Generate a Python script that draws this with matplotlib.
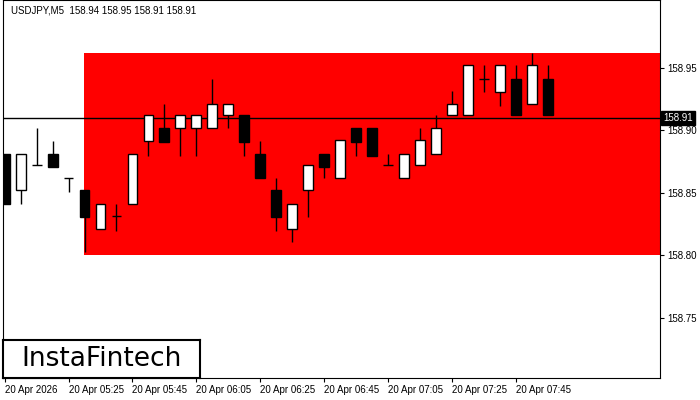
import matplotlib
matplotlib.use("Agg")
import matplotlib.pyplot as plt
from matplotlib.patches import Rectangle

plt.rcParams['font.family'] = ['Liberation Sans', 'DejaVu Sans']

opens  = [158.881,158.852,158.872,158.881,158.862,158.852,158.821,158.832,158.841,158.892,
          158.902,158.902,158.902,158.902,158.912,158.912,158.881,158.852,158.821,158.852,
          158.881,158.862,158.902,158.902,158.872,158.862,158.872,158.881,158.912,158.912,
          158.941,158.931,158.941,158.921,158.941]
highs  = [158.881,158.881,158.902,158.892,158.862,158.852,158.841,158.841,158.881,158.912,
          158.921,158.912,158.912,158.941,158.921,158.912,158.892,158.862,158.841,158.872,
          158.881,158.892,158.902,158.902,158.881,158.881,158.902,158.912,158.932,158.952,
          158.952,158.952,158.952,158.962,158.952]
lows   = [158.841,158.841,158.872,158.871,158.851,158.803,158.821,158.820,158.841,158.880,
          158.891,158.880,158.880,158.902,158.902,158.880,158.862,158.820,158.811,158.831,
          158.862,158.862,158.880,158.880,158.872,158.862,158.872,158.881,158.912,158.912,
          158.931,158.920,158.912,158.921,158.912]
closes = [158.841,158.881,158.872,158.871,158.862,158.831,158.841,158.832,158.881,158.912,
          158.891,158.912,158.912,158.921,158.921,158.891,158.862,158.831,158.841,158.872,
          158.871,158.892,158.891,158.880,158.872,158.881,158.892,158.902,158.921,158.952,
          158.941,158.952,158.912,158.952,158.912]
xlabels = ["20 Apr 2026","20 Apr 05:25","20 Apr 05:45","20 Apr 06:05","20 Apr 06:25",
           "20 Apr 06:45","20 Apr 07:05","20 Apr 07:25","20 Apr 07:45"]
yticks = [158.75,158.80,158.85,158.90,158.95]
zone_low, zone_high, zone_start = 158.80, 158.962, 5
last_price = 158.91

fig = plt.figure(figsize=(7,4), dpi=100)
ax = fig.add_axes([3/700, 22/400, 657/700, 378/400])
ax.set_xlim(-0.1, 41.0)
ax.set_ylim(158.702, 159.0044)

ax.add_patch(Rectangle((zone_start-0.05, zone_low), 50, zone_high-zone_low, facecolor="#ff0000", edgecolor="none", zorder=1))
ax.axhline(last_price, color="black", lw=1, zorder=2)

w = 0.62
for i,(o,h,l,c) in enumerate(zip(opens,highs,lows,closes)):
    ax.vlines(i, l, h, color="black", lw=1, zorder=3)
    bot, top = min(o,c), max(o,c)
    if abs(c-o) < 0.002:
        ax.hlines(o, i-w/2, i+w/2, color="black", lw=1, zorder=4)
    else:
        ax.add_patch(Rectangle((i-w/2, bot), w, top-bot, facecolor="white" if c>o else "black",
                               edgecolor="black", lw=1, zorder=4))

ax.set_xticks(range(0, 4*len(xlabels), 4))
ax.set_xticklabels(xlabels, fontsize=7, ha="left")
ax.yaxis.tick_right()
ax.set_yticks(yticks)
ax.set_yticklabels([f"{v:.2f}" for v in yticks], fontsize=7)
ax.tick_params(length=3, pad=2)
ax.text(1.005, last_price, f"{last_price:.2f}", transform=ax.get_yaxis_transform(), fontsize=7,
        color="white", va="center", ha="left",
        bbox=dict(facecolor="black", edgecolor="black", pad=1.5))
ax.text(0.012, 0.985, "USDJPY,M5  158.94 158.95 158.91 158.91", transform=ax.transAxes,
        fontsize=7, va="top", ha="left")
logo_ax = fig.add_axes([3/700, 22/400, 197/700, 38/400])
logo_ax.set_xticks([]); logo_ax.set_yticks([])
for s in logo_ax.spines.values():
    s.set_linewidth(1.5)
logo_ax.text(0.5, 0.5, "InstaFintech", fontsize=19, ha="center", va="center", family="DejaVu Sans")
fig.savefig("out.png", dpi=100)
